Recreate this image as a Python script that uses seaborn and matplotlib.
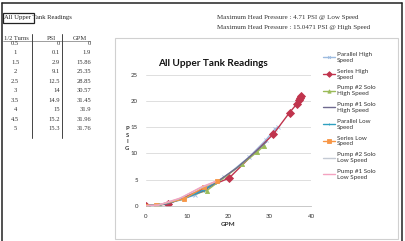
import matplotlib
matplotlib.use("Agg")
import matplotlib.pyplot as plt
import seaborn as sns
from matplotlib.lines import Line2D
from matplotlib.patches import Rectangle

# ---------------- data ----------------
turns = ["0.5", "1", "1.5", "2", "2.5", "3", "3.5", "4", "4.5", "5"]
table_psi = ["0", "0.1", "2.9", "9.1", "12.5", "14", "14.9", "15", "15.2", "15.3"]
table_gpm = ["0", "1.9", "15.86", "25.35", "28.85", "30.57", "31.45", "31.9", "31.96", "31.76"]

par_hi_gpm = [0, 3.5, 12, 19, 25, 29, 31.2, 32]
par_hi_psi = [0, 0.2, 2.0, 5.4, 9.3, 12.5, 14.6, 15.05]
ser_hi_gpm = [0, 5.4, 20.2, 30.9, 34.8, 36.6, 37.1, 37.4, 37.6]
ser_hi_psi = [0, 0.3, 5.3, 13.7, 17.8, 19.5, 20.2, 20.6, 20.9]
p2_hi_gpm = [0, 3.3, 14.8, 23.4, 27.0, 28.7]
p2_hi_psi = [0, 0.1, 2.9, 8.0, 10.3, 11.5]
p1_hi_gpm = [0, 5, 14, 22, 26.5, 29.2]
p1_hi_psi = [0, 0.3, 2.8, 7.2, 10.3, 12.2]
par_lo_gpm = [0, 3, 9, 14, 17]
par_lo_psi = [0, 0.1, 1.2, 3.0, 4.6]
ser_lo_gpm = [0, 2.5, 9.3, 14, 17.2]
ser_lo_psi = [0, 0.05, 1.3, 3.5, 4.71]
p2_lo_gpm = [0, 3, 8, 13, 16.5]
p2_lo_psi = [0, 0.1, 1.3, 3.3, 4.5]
p1_lo_gpm = [0, 3, 8.5, 13.5, 16.8]
p1_lo_psi = [0, 0.1, 1.5, 3.6, 4.6]

series_names = ["Parallel High\nSpeed", "Series High\nSpeed", "Pump #2 Solo\nHigh Speed",
                "Pump #1 Solo\nHigh Speed", "Parallel Low\nSpeed", "Series Low\nSpeed",
                "Pump #2 Solo\nLow Speed", "Pump #1 Solo\nLow Speed"]
x_ticks = [0, 10, 20, 30, 40]
y_ticks = [0, 5, 10, 15, 20, 25]

# ---------------- figure ----------------
W, H = 406, 241
sns.set_theme(style="white")
plt.rcParams["font.family"] = ["Lato", "DejaVu Sans"]
fig = plt.figure(figsize=(W / 100, H / 100), dpi=100)
fig.patch.set_facecolor("white")


def fx(x):
    return x / W


def fy(y):
    return 1 - y / H


def T(x, y, s, **kw):
    fig.text(fx(x), fy(y), s, **kw)


def L(x0, y0, x1, y1, **kw):
    fig.add_artist(Line2D([fx(x0), fx(x1)], [fy(y0), fy(y1)], transform=fig.transFigure, **kw))


# outer frame
L(2.5, 241, 2.5, 3, color="#222222", lw=1.1)
L(2.5, 3, 402, 3, color="#222222", lw=1.1)
L(402, 3, 402, 241, color="#222222", lw=1.1)

# sheet title with cell box
serif = ["Liberation Serif", "DejaVu Serif"]
T(4.5, 18, "All Upper Tank Readings", fontsize=4.8, family=serif, va="center", color="#222222")
fig.add_artist(Rectangle((fx(2.8), fy(22.7)), fx(34) - fx(2.8), fy(13.5) - fy(22.7),
                         transform=fig.transFigure, fill=False, ec="#222222", lw=0.9))

# table
T(4, 38, "1/2 Turns", fontsize=4.7, family=serif, va="center", color="#333333")
T(51, 38, "PSI", fontsize=4.7, family=serif, va="center", ha="center", color="#333333")
T(80, 38, "GPM", fontsize=4.7, family=serif, va="center", ha="center", color="#333333")
L(3, 41, 90, 41, color="#777777", lw=0.5)
L(32.3, 34, 32.3, 138, color="#444444", lw=0.7)
L(62, 34, 62, 138, color="#444444", lw=0.7)
for i in range(len(turns)):
    yy = 43.5 + i * 9.44
    T(15, yy, turns[i], fontsize=4.7, family=serif, va="center", ha="center", color="#333333")
    T(60, yy, table_psi[i], fontsize=4.7, family=serif, va="center", ha="right", color="#333333")
    T(91, yy, table_gpm[i], fontsize=4.7, family=serif, va="center", ha="right", color="#333333")

# top-right notes
T(217, 18, "Maximum Head Pressure : 4.71 PSI @ Low Speed", fontsize=5, family=serif,
  va="center", color="#333333")
T(217, 28, "Maximum Head Pressure : 15.0471 PSI @ High Speed", fontsize=5, family=serif,
  va="center", color="#333333")

# chart box
fig.add_artist(Rectangle((fx(115), fy(239)), fx(398) - fx(115), fy(38) - fy(239),
                         transform=fig.transFigure, fill=False, ec="#D0D0D0", lw=0.8))

# axes
ax = fig.add_axes([fx(145.7), fy(205.7), fx(311) - fx(145.7), fy(75) - fy(205.7)])
ax.set_facecolor("white")

styles = [
    (par_hi_gpm, par_hi_psi, "#9DBBE0", "x", 2.5),
    (ser_hi_gpm, ser_hi_psi, "#C0344D", "D", 3.6),
    (p2_hi_gpm, p2_hi_psi, "#9BBB59", "^", 3.0),
    (p1_hi_gpm, p1_hi_psi, "#6F6A8F", "", 0),
    (par_lo_gpm, par_lo_psi, "#2FA0C0", "|", 2.5),
    (ser_lo_gpm, ser_lo_psi, "#F79646", "s", 3.0),
    (p2_lo_gpm, p2_lo_psi, "#C4CAD4", "", 0),
    (p1_lo_gpm, p1_lo_psi, "#F4A3C0", "", 0),
]
handles = []
for (gx, gy, col, mk, ms), name in zip(styles, series_names):
    kw = dict(marker=mk, markersize=ms, markeredgewidth=0.6, markeredgecolor=col) if mk else {}
    sns.lineplot(x=gx, y=gy, ax=ax, sort=False, estimator=None, color=col, linewidth=1.0, **kw)
    handles.append(Line2D([], [], color=col, lw=1.0, marker=mk if mk else None,
                          markersize=ms * 0.8, markeredgecolor=col, markeredgewidth=0.6))

ax.set_xlim(0, 40)
ax.set_ylim(0, 25)
ax.set_xticks(x_ticks)
ax.set_yticks(y_ticks)
ax.set_xticklabels([str(v) for v in x_ticks])
ax.set_yticklabels([str(v) for v in y_ticks])
ax.tick_params(axis="both", length=0, labelsize=4.4, colors="#333333")
ax.tick_params(axis="y", pad=5.5)
ax.tick_params(axis="x", pad=6)
ax.yaxis.grid(True, color="#D9D9D9", lw=0.6)
ax.xaxis.grid(False)
ax.set_axisbelow(True)
for s in ["top", "right", "left"]:
    ax.spines[s].set_visible(False)
ax.spines["bottom"].set_color("#BFBFBF")
ax.spines["bottom"].set_linewidth(0.6)
ax.set_xlabel("")
ax.set_ylabel("")

T(213, 63, "All Upper Tank Readings", fontsize=7.2, fontweight="bold", ha="center",
  va="center", color="#111111")
T(228, 225, "GPM", fontsize=4.6, fontweight="bold", ha="center", va="center", color="#333333")
for i, ch in enumerate("PSIG"):
    T(127, 128.5 + i * 6.6, ch, fontsize=4.2, fontweight="bold", ha="center", va="center",
      color="#333333")

fig.legend(handles, series_names, loc="upper left", bbox_to_anchor=(fx(323), fy(52)),
           frameon=False, fontsize=4.5, handlelength=2.0, handletextpad=0.2,
           labelspacing=0.95, borderpad=0, borderaxespad=0, labelcolor="#333333")

fig.savefig("out.png", dpi=100, facecolor="white")
